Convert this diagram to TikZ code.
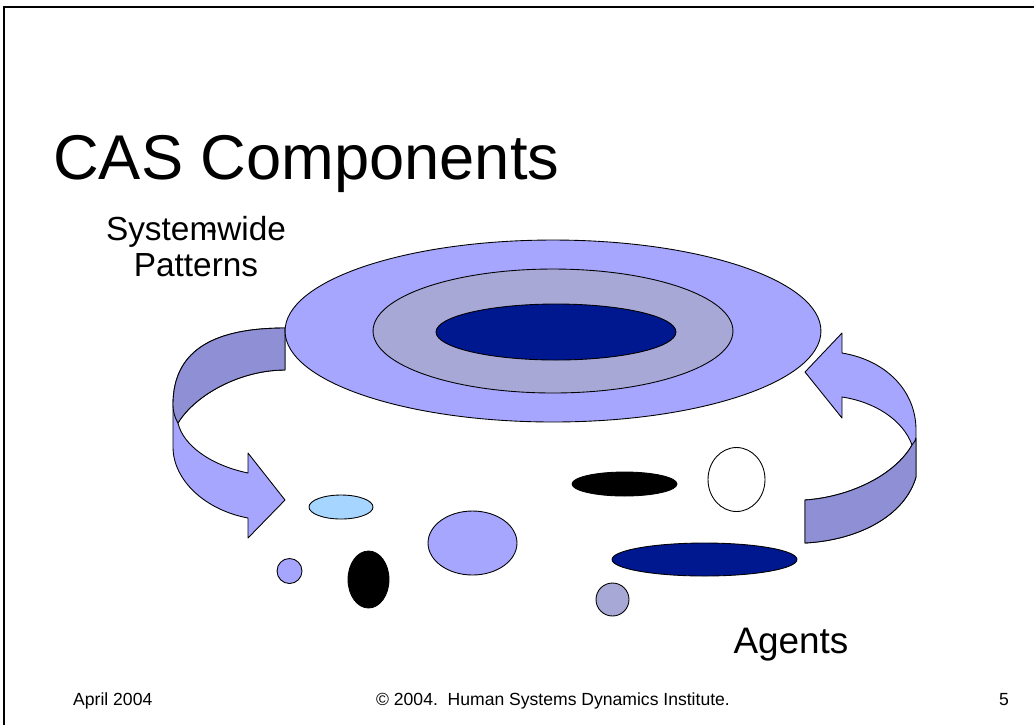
\documentclass[tikz,border=0pt]{standalone}
\usepackage{fontspec}
\setmainfont{Liberation Sans}
\usepackage{tikz}
\usetikzlibrary{shapes.geometric, positioning}

\definecolor{peri}{RGB}{166,166,255}
\definecolor{periDark}{RGB}{143,143,214}
\definecolor{lavgray}{RGB}{168,168,214}
\definecolor{navy}{RGB}{0,24,143}
\definecolor{skyblue}{RGB}{166,214,255}

\begin{document}
\begin{tikzpicture}[
    x=0.02cm, y=-0.02cm,
    ring/.style={ellipse, draw=black, line width=0.5pt, inner sep=0pt},
    agent/.style={ellipse, draw=black, line width=0.5pt, inner sep=0pt},
    band/.style={draw=black, line width=0.5pt, line join=round},
    heading/.style={font=\fontsize{36}{42}\selectfont},
    side/.style={font=\fontsize{19}{20}\selectfont, align=center},
    foot/.style={font=\fontsize{10}{12}\selectfont}]

    \useasboundingbox (0,0) rectangle (1034,725);
    \draw[line width=1.1pt] (4,725) -- (4,7) -- (1034,7);

    \node[heading, anchor=base west] (title) at (47,179) {CAS Components};
    \node[side, anchor=base] (sysname) at (196,276) {System\llap{-}wide\\Patterns};

    % feedback arrow (left): patterns down to agents
    \fill[peri, band] (285,328) .. controls (200,328) and (173,360) .. (173,405)
        -- (173,447) .. controls (173,480) and (205,510) .. (248,518)
        -- (248,538) -- (285,500) -- (248,453) -- (248,473)
        .. controls (210,465) and (183,445) .. (178,423)
        .. controls (195,395) and (240,370) .. (285,370) -- cycle;
    \fill[periDark, band] (285,328) .. controls (200,328) and (173,360) .. (173,405)
        .. controls (173,412) and (175,418) .. (178,423)
        .. controls (195,395) and (240,370) .. (285,370) -- cycle;

    % feedback arrow (right): agents up to patterns
    \fill[peri, band] (842,353) .. controls (885,360) and (916,390) .. (916,430)
        -- (916,477) .. controls (905,515) and (860,540) .. (805,543)
        -- (805,500) .. controls (850,497) and (895,475) .. (912,445)
        .. controls (903,420) and (875,402) .. (842,397)
        -- (842,418) -- (805,372) -- (842,333) -- cycle;
    \fill[periDark, band] (916,438) -- (916,477)
        .. controls (905,515) and (860,540) .. (805,543)
        -- (805,500) .. controls (850,497) and (895,475) .. (912,445)
        .. controls (914,442) and (916,440) .. cycle;

    % system-wide patterns
    \node[ring, fill=peri, minimum width=10.72cm, minimum height=3.64cm] (outer) at (553,331) {};
    \node[ring, fill=lavgray, minimum width=7.2cm, minimum height=2.48cm] (middle) at (553,331) {};
    \node[ring, fill=navy, minimum width=4.8cm, minimum height=1.12cm] (core) at (556,332) {};

    % agents
    \node[agent, fill=skyblue, minimum width=1.28cm, minimum height=0.48cm] (a1) at (341,507) {};
    \node[agent, fill=peri, minimum width=0.5cm, minimum height=0.5cm] (a2) at (289.5,571) {};
    \node[agent, fill=black, minimum width=0.82cm, minimum height=1.14cm] (a3) at (368.5,579.5) {};
    \node[agent, fill=peri, minimum width=1.78cm, minimum height=1.28cm] (a4) at (472.5,543) {};
    \node[agent, fill=black, minimum width=2.1cm, minimum height=0.48cm] (a5) at (624.5,484) {};
    \node[agent, fill=white, minimum width=1.14cm, minimum height=1.28cm] (a6) at (736.5,479.5) {};
    \node[agent, fill=navy, minimum width=3.7cm, minimum height=0.66cm] (a7) at (704.5,559.5) {};
    \node[agent, fill=lavgray, minimum width=0.66cm, minimum height=0.66cm] (a8) at (612.5,599.5) {};

    \node[font=\fontsize{21}{24}\selectfont, anchor=base] (agentsname) at (791,653) {Agents};

    % footer
    \node[foot, anchor=base west] (date) at (67,705) {April 2004};
    \node[foot, anchor=base] (copy) at (553,705) {© 2004.\ \ Human Systems Dynamics Institute.};
    \node[foot, anchor=base] (page) at (1004,705) {5};
\end{tikzpicture}
\end{document}
